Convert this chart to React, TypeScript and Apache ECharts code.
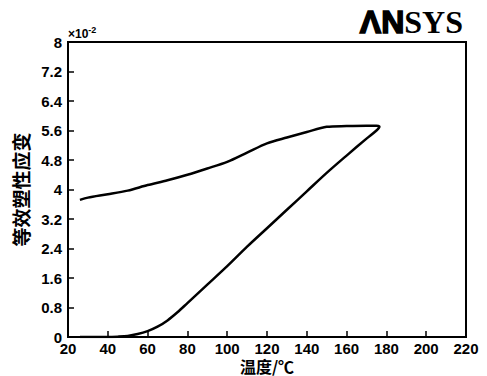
import React, { useEffect, useRef } from "react";
import * as echarts from "echarts";

const xTicks = [20, 40, 60, 80, 100, 120, 140, 160, 180, 200, 220];
const yTicks = [0, 0.8, 1.6, 2.4, 3.2, 4, 4.8, 5.6, 6.4, 7.2, 8];

// heating branch (lower curve), temperature in °C, strain in ×10^-2
const loadTemp = [26, 35, 40, 45, 50, 55, 60, 65, 70, 75, 80, 90, 100, 110, 120, 130, 140, 150, 160, 170, 175, 176.5];
const loadStrain = [0, 0, 0, 0.01, 0.03, 0.08, 0.16, 0.28, 0.45, 0.67, 0.92, 1.42, 1.92, 2.45, 2.95, 3.45, 3.95, 4.45, 4.92, 5.38, 5.6, 5.7];
// cooling branch (upper curve)
const unloadTemp = [175, 170, 160, 150, 140, 130, 120, 110, 100, 90, 80, 70, 60, 50, 40, 30, 26];
const unloadStrain = [5.73, 5.73, 5.72, 5.7, 5.56, 5.41, 5.25, 5.0, 4.75, 4.57, 4.4, 4.25, 4.12, 3.97, 3.87, 3.78, 3.72];

export default function App() {
  const ref = useRef<HTMLDivElement>(null);
  useEffect(() => {
    if (!ref.current) return;
    const chart = echarts.init(ref.current, undefined, { renderer: "svg" });
    const data: number[][] = [];
    loadTemp.forEach((t, i) => data.push([t, loadStrain[i]]));
    unloadTemp.forEach((t, i) => data.push([t, unloadStrain[i]]));
    const font = "'Liberation Sans', Arial, sans-serif";
    const cjk = "'Noto Sans CJK SC', sans-serif";
    chart.setOption({
      animation: false,
      backgroundColor: "#ffffff",
      grid: {
        left: 68,
        right: 21,
        top: 42,
        bottom: 39,
        outerBoundsMode: "none",
        containLabel: false,
        show: true,
        borderColor: "#000",
        borderWidth: 2,
        backgroundColor: "transparent",
      },
      xAxis: {
        type: "value",
        min: 20,
        max: 220,
        interval: 20,
        name: "温度/℃",
        nameLocation: "middle",
        nameGap: 21,
        nameMoveOverlap: false,
        nameTextStyle: { fontFamily: cjk, fontWeight: "bold", fontSize: 16, lineHeight: 16, color: "#000000" },
        axisLine: { show: true, lineStyle: { color: "#000", width: 2 } },
        axisTick: { show: true, inside: true, length: 6, lineStyle: { color: "#000", width: 1.5 } },
        axisLabel: {
          color: "#000",
          fontSize: 15,
          lineHeight: 12,
          fontWeight: "bold",
          fontFamily: font,
          margin: 5,
          formatter: (v: number) => (xTicks.includes(v) ? String(v) : ""),
        },
        splitLine: { show: false },
      },
      yAxis: {
        type: "value",
        min: 0,
        max: 8,
        interval: 0.8,
        name: "等效塑性应变",
        nameLocation: "middle",
        nameRotate: 90,
        nameGap: 37,
        nameTextStyle: { fontFamily: cjk, fontWeight: "bold", fontSize: 19, color: "#000000" },
        axisLine: { show: true, lineStyle: { color: "#000", width: 2 } },
        axisTick: { show: true, inside: true, length: 6, lineStyle: { color: "#000", width: 1.5 } },
        axisLabel: {
          color: "#000",
          fontSize: 15,
          lineHeight: 12,
          fontWeight: "bold",
          fontFamily: font,
          margin: 6,
          formatter: (v: number) => {
            const r = Number(v.toFixed(1));
            return yTicks.includes(r) ? String(r) : "";
          },
        },
        splitLine: { show: false },
      },
      graphic: [
        {
          type: "text",
          left: 68,
          top: 25,
          style: {
            text: "{a|×10}{b|-2}",
            rich: {
              a: { fontSize: 12, fontWeight: "bold", fontFamily: font, fill: "#000", verticalAlign: "bottom" },
              b: { fontSize: 9, fontWeight: "bold", fontFamily: font, fill: "#000", verticalAlign: "top", padding: [0, 0, 6, 0] },
            },
          },
        },
        {
          type: "text",
          right: 24,
          top: 5,
          style: {
            text: "{a|ΛN}{b|SYS}",
            rich: {
              a: { fontSize: 32, fontWeight: "bold", fontFamily: font, fill: "#000", stroke: "#000", lineWidth: 1.5 },
              b: { fontSize: 32, fontWeight: "bold", fontFamily: "'Liberation Serif', serif", fill: "#000" },
            },
          },
        },
      ],
      series: [
        {
          type: "line",
          data,
          smooth: 0.3,
          symbol: "none",
          lineStyle: { color: "#000", width: 2.5 },
        },
      ],
    });
    return () => chart.dispose();
  }, []);
  return <div ref={ref} style={{ position: "fixed", left: 0, top: 0, width: 487, height: 376 }} />;
}
